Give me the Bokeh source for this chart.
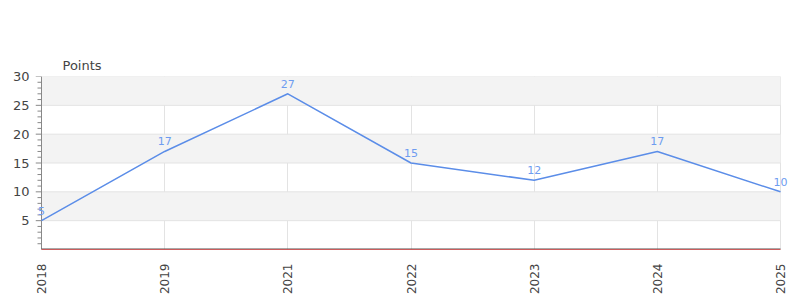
from bokeh.plotting import figure
from bokeh.models import ColumnDataSource, FixedTicker, Range1d, Title, LabelSet
from bokeh.embed import file_html
from bokeh.resources import INLINE
from bokeh.core.properties import value
import math

years = ["2018", "2019", "2021", "2022", "2023", "2024", "2025"]
points = [5, 17, 27, 15, 12, 17, 10]
y_ticks = [5, 10, 15, 20, 25, 30]
y_minor = [i for i in range(0, 31) if i % 5 != 0]

xs = list(range(len(years)))
last = len(years) - 1
src = ColumnDataSource(dict(x=xs, y=points, label=[str(v) for v in points]))

# layout: category span from x=41px to x=780px
px_per_unit = (780 - 41) / last
left_border, right_border = 35, 10
x_start = -(41 - left_border) / px_per_unit
x_end = last + (800 - right_border - 780) / px_per_unit

p = figure(width=800, height=300, output_backend="svg", toolbar_location=None,
           x_range=Range1d(x_start, x_end), y_range=Range1d(0, 30),
           min_border_left=left_border, min_border_right=right_border,
           min_border_top=76, min_border_bottom=51)
p.title = None
p.add_layout(Title(text="Points", offset=62 - left_border, text_font_size="13px",
                   text_font_style="normal", text_color="#444444",
                   text_font="DejaVu Sans", standoff=8), "above")
p.outline_line_color = None
p.background_fill_color = "white"

# alternating bands and horizontal grid lines, limited to the category span
p.quad(left=0, right=last, bottom=y_ticks[0::2], top=y_ticks[1::2],
       fill_color="#f3f3f3", line_color=None)
p.segment(x0=0, x1=last, y0=y_ticks, y1=y_ticks, line_color="#e3e3e3", line_width=1)

# y axis line and ticks at the first category
p.segment(x0=0, x1=0, y0=0, y1=30, line_color="#888888", line_width=1)
p.ray(x=0, y=y_ticks, length=6, angle=math.pi, length_units="screen",
      line_color="#888888", line_width=1)
p.ray(x=0, y=y_minor, length=4, angle=math.pi, length_units="screen",
      line_color="#888888", line_width=1)

p.line("x", "y", source=src, line_color="#5b8de8", line_width=1.5)
p.add_layout(LabelSet(x="x", y="y", text="label", source=src, text_align="center",
                      text_baseline="bottom", y_offset=6, text_font_size="11px",
                      text_color="#6e9cf0", text_font=value("DejaVu Sans"), level="overlay"))

# baseline at zero
p.segment(x0=0, x1=last, y0=0, y1=0, line_color="#555555", line_width=2)
p.segment(x0=0, x1=last, y0=0, y1=0, line_color="#ee1111", line_width=1)

# y axis labels (frame edge)
p.yaxis.ticker = FixedTicker(ticks=y_ticks)
p.yaxis.axis_line_color = None
p.yaxis.major_tick_line_color = None
p.yaxis.minor_tick_line_color = None
p.yaxis.major_label_text_font_size = "13px"
p.yaxis.major_label_text_color = "#444444"
p.yaxis.major_label_text_font = "DejaVu Sans"
p.yaxis.major_label_standoff = 0

# x axis
p.xaxis.ticker = FixedTicker(ticks=xs)
p.xaxis.major_label_overrides = {i: y for i, y in enumerate(years)}
p.xaxis.major_label_orientation = math.pi / 2
p.xaxis.axis_line_color = None
p.xaxis.major_tick_line_color = None
p.xaxis.minor_tick_line_color = None
p.xaxis.major_label_text_font_size = "12px"
p.xaxis.major_label_text_color = "#444444"
p.xaxis.major_label_text_font = "DejaVu Sans"
p.xaxis.major_label_standoff = 8

p.xgrid.grid_line_color = "#e3e3e3"
p.xgrid.bounds = (0, last)
p.ygrid.grid_line_color = None

open("out.html", "w").write(file_html(p, INLINE))
